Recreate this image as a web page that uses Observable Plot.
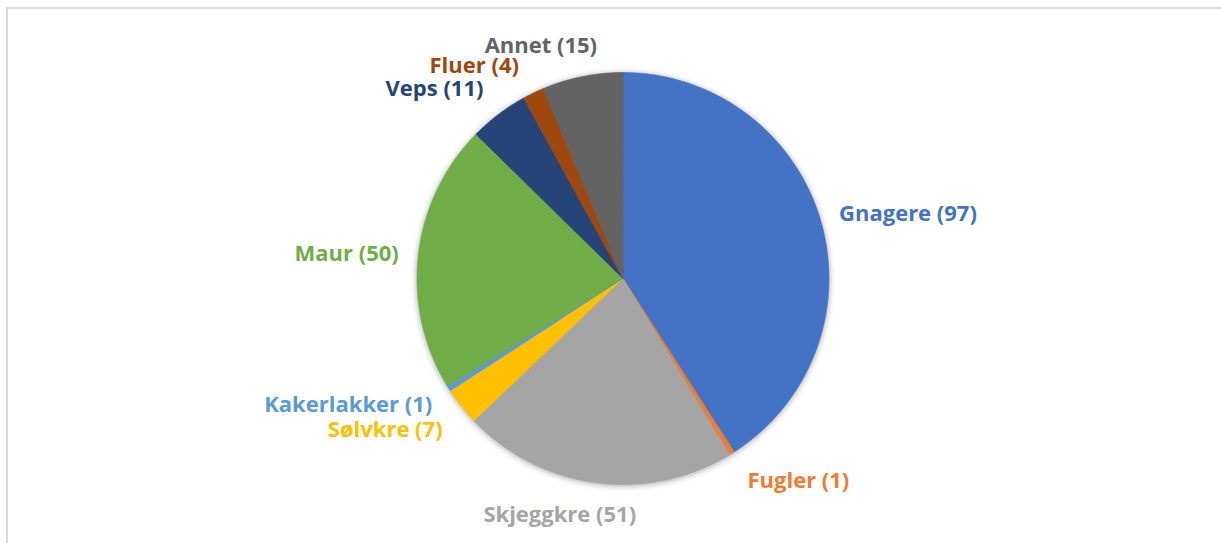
<!DOCTYPE html>
<html>
<head>
<meta charset="utf-8">
<script src="https://cdn.jsdelivr.net/npm/d3@7"></script>
<script src="https://cdn.jsdelivr.net/npm/@observablehq/plot@0.6"></script>
<style>
  html, body { margin: 0; padding: 0; background: #fff; overflow: hidden; }
  #wrap { position: relative; width: 1221px; height: 543px; }
  #frame { position: absolute; left: 6px; top: 7px; width: 1400px; height: 800px;
           border-left: 2px solid #d9d9d9; border-top: 2px solid #d9d9d9; pointer-events: none; }
</style>
</head>
<body>
<div id="wrap"><div id="frame"></div></div>
<script>
// ---- data ----
const categories = ["Gnagere", "Fugler", "Skjeggkre", "Sølvkre", "Kakerlakker", "Maur", "Veps", "Fluer", "Annet"];
const values = [97, 1, 51, 7, 1, 50, 11, 4, 15];
const colors = ["#4472C4", "#ED7D31", "#A5A5A5", "#FFC000", "#5B9BD5", "#70AD47", "#264478", "#9E480E", "#636363"];

// ---- layout / style (separate from data) ----
const W = 1221, H = 543;
const CX = 622.5, CY = 278, R = 206;
const FONT_SIZE = 22, FONT_FAMILY = "Open Sans", FONT_WEIGHT = 700;
const GAP = 22;
// label nudges in pixels (Excel's collision adjustments)
const labelNudge = [[0, 3], [28, 0], [-23, 0], [-14, 3], [-11, -1], [2, 2], [-21, 1], [-30, 3], [-26, 2]];

const data = categories.map((name, i) => ({name, value: values[i], color: colors[i]}));
const arcs = d3.pie().sort(null).value(d => d.value)(data);

// polygon vertices for each wedge (unit circle coords, y up)
const wedgePts = [];
arcs.forEach(a => {
  const n = Math.max(2, Math.ceil((a.endAngle - a.startAngle) / (Math.PI / 360)));
  wedgePts.push({name: a.data.name, color: a.data.color, x: 0, y: 0});
  for (let k = 0; k <= n; k++) {
    const t = a.startAngle + (a.endAngle - a.startAngle) * k / n;
    wedgePts.push({name: a.data.name, color: a.data.color, x: Math.sin(t), y: Math.cos(t)});
  }
});

// labels
const ctx = document.createElement("canvas").getContext("2d");
ctx.font = `${FONT_WEIGHT} ${FONT_SIZE}px "${FONT_FAMILY}"`;
const labels = arcs.map((a, i) => {
  const text = `${a.data.name} (${a.data.value})`;
  const w = ctx.measureText(text).width, h = 22;
  const m = (a.startAngle + a.endAngle) / 2;
  const s = Math.sin(m), c = Math.cos(m);
  const px = CX + (R + GAP) * s + s * w / 2 + labelNudge[i][0];
  const py = CY - (R + GAP) * c - c * h / 2 + labelNudge[i][1];
  return {text, color: a.data.color, x: (px - CX) / R, y: (CY - py) / R};
});

const chart = Plot.plot({
  width: W, height: H,
  margin: 0,
  style: {background: "transparent"},
  x: {domain: [-CX / R, (W - CX) / R], range: [0, W], axis: null},
  y: {domain: [-(H - CY) / R, CY / R], range: [H, 0], axis: null},
  marks: [
    Plot.line(wedgePts, {x: "x", y: "y", z: "name", fill: "color", stroke: "color", strokeWidth: 0.6, curve: "linear-closed"}),
    Plot.text(labels, {x: "x", y: "y", text: "text", fill: "color", fontSize: FONT_SIZE,
                       fontWeight: FONT_WEIGHT, fontFamily: FONT_FAMILY, textAnchor: "middle"})
  ]
});
const g = chart.querySelector('g[aria-label="line"]');
if (g) g.style.filter = "drop-shadow(0px 1px 3px rgba(0,0,0,0.35))";
document.getElementById("wrap").insertBefore(chart, document.getElementById("frame"));
</script>
</body>
</html>
